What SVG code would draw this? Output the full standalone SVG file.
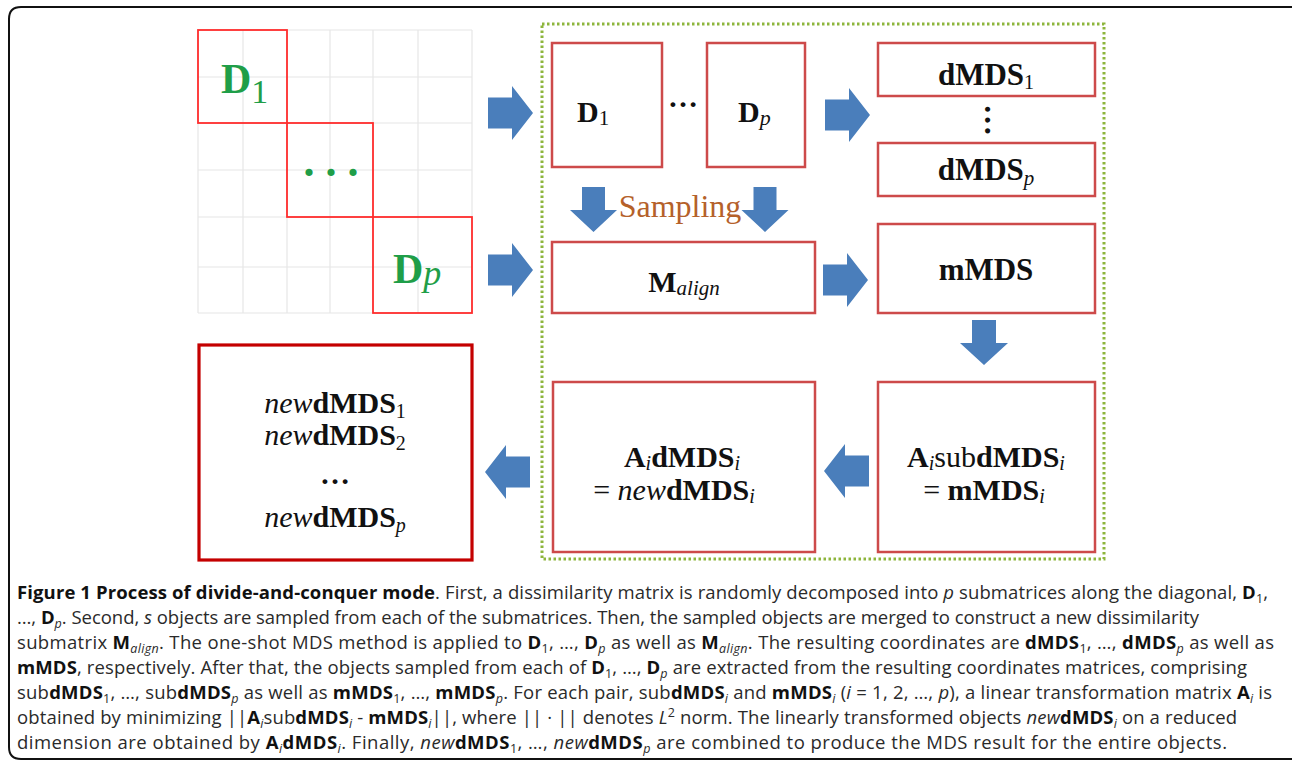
<svg xmlns="http://www.w3.org/2000/svg" width="1292" height="763" viewBox="0 0 1292 763">
<style>
.frame{fill:none;stroke:#111;stroke-width:2}
.grid{stroke:#e6e6e6;stroke-width:1.2;fill:none}
.blk{fill:none;stroke:#ff2d2d;stroke-width:1.8}
.box{fill:#fff;stroke:#cd4a4a;stroke-width:2.5}
.fbox{fill:#fff;stroke:#c40000;stroke-width:3.2}
.dot{fill:none;stroke:#8db53c;stroke-width:3;stroke-dasharray:2.5 2.5}
.arr{fill:#4a7ebb}
.t{font-family:"Liberation Serif","Times New Roman",serif;fill:#111}
.g{font-family:"Liberation Serif","Times New Roman",serif;fill:#1f9e48}
.b{font-weight:700}
.i{font-style:italic}
.smp{font-family:"Liberation Serif","Times New Roman",serif;fill:#b5612a;font-size:32px}
.cap{font-family:"Open Sans","Noto Sans",sans-serif;font-size:18.5px;fill:#2a2a2a}
.cb{font-weight:700;fill:#111}
.cs{font-size:12.5px}
</style>
<path class="frame" d="M1300,7 H21 Q9,7 9,19 V747 Q9,759 21,759 H1300"/>
<g id="grid">
<path class="grid" d="M198,30 V313 M243,30 V313 M287,30 V313 M330,30 V313 M373,30 V313 M418,30 V313 M472,30 V313 M198,30 H472 M198,77 H472 M198,123 H472 M198,170 H472 M198,217 H472 M198,267 H472 M198,313 H472"/>
<rect class="blk" x="198" y="30" width="89" height="93"/>
<rect class="blk" x="287" y="123" width="86" height="94"/>
<rect class="blk" x="373" y="217" width="99" height="96"/>
<text class="g" x="221" y="93"><tspan class="b" font-size="42">D</tspan><tspan font-size="34" dy="10">1</tspan></text>
<text class="g b" x="331" y="176" font-size="44" text-anchor="middle">. . .</text>
<text class="g" x="393" y="283"><tspan class="b" font-size="42">D</tspan><tspan class="i" font-size="36" dy="2">p</tspan></text>
</g>
<rect class="dot" x="542" y="24" width="562" height="535"/>
<g id="connectors">
<path class="arr" d="M488,97.5 H512 V86 L533,113 L512,140 V128.5 H488 Z"/>
<path class="arr" d="M488,254.5 H512 V243 L533,270 L512,297 V285.5 H488 Z"/>
<path class="arr" d="M825,99.5 H849 V88 L870,115 L849,142 V130.5 H825 Z"/>
<path class="arr" d="M823,264.5 H847 V253 L868,280 L847,307 V295.5 H823 Z"/>
<path class="arr" d="M582,187 V210 H570 L593.5,232 L617,210 H605 V187 Z"/>
<path class="arr" d="M753.5,187 V210 H741.5 L765,232 L788.5,210 H776.5 V187 Z"/>
<path class="arr" d="M972,320 V343 H960 L984,365 L1008,343 H996 V320 Z"/>
<path class="arr" d="M869,455.5 H845 V444 L824,471 L845,498 V486.5 H869 Z"/>
<path class="arr" d="M530,456.5 H506 V445 L485,472 L506,499 V487.5 H530 Z"/>
<text class="smp" x="680" y="217" text-anchor="middle">Sampling</text>
</g>
<g id="node-d1">
<rect class="box" x="552" y="43" width="110" height="124"/>
<text class="t" x="577" y="122"><tspan class="b" font-size="30">D</tspan><tspan font-size="21" dy="3">1</tspan></text>
</g>
<text class="t b" x="683" y="107" font-size="30" text-anchor="middle">…</text>
<g id="node-dp">
<rect class="box" x="707" y="43" width="98" height="124"/>
<text class="t" x="738" y="122"><tspan class="b" font-size="30">D</tspan><tspan class="i" font-size="22" dy="3">p</tspan></text>
</g>
<g id="node-dmds1">
<rect class="box" x="878" y="43" width="217" height="53"/>
<text class="t" x="986" y="85" text-anchor="middle"><tspan class="b" font-size="31">dMDS</tspan><tspan font-size="20" dy="4">1</tspan></text>
</g>
<text class="t b" x="987" y="122" font-size="32" text-anchor="middle" transform="rotate(90 987 120)">…</text>
<g id="node-dmdsp">
<rect class="box" x="878" y="143" width="217" height="53"/>
<text class="t" x="986" y="180" text-anchor="middle"><tspan class="b" font-size="31">dMDS</tspan><tspan class="i" font-size="21" dy="5">p</tspan></text>
</g>
<g id="node-malign">
<rect class="box" x="552" y="242" width="263" height="71"/>
<text class="t" x="684" y="292" text-anchor="middle"><tspan class="b" font-size="30">M</tspan><tspan class="i" font-size="21" dy="3">align</tspan></text>
</g>
<g id="node-mmds">
<rect class="box" x="878" y="224" width="217" height="89"/>
<text class="t b" x="986" y="280" font-size="31" text-anchor="middle">mMDS</text>
</g>
<g id="node-asub">
<rect class="box" x="878" y="382" width="217" height="170"/>
<text class="t" x="986" y="467" text-anchor="middle" font-size="30"><tspan class="b">A</tspan><tspan class="i" font-size="20" dy="3">i</tspan><tspan dy="-3">sub</tspan><tspan class="b">dMDS</tspan><tspan class="i" font-size="20" dy="3">i</tspan></text>
<text class="t" x="984" y="500" text-anchor="middle" font-size="30"><tspan>= </tspan><tspan class="b">mMDS</tspan><tspan class="i" font-size="20" dy="3">i</tspan></text>
</g>
<g id="node-adm">
<rect class="box" x="553" y="382" width="262" height="170"/>
<text class="t" x="682" y="467" text-anchor="middle" font-size="30"><tspan class="b">A</tspan><tspan class="i" font-size="20" dy="3">i</tspan><tspan class="b" dy="-3">dMDS</tspan><tspan class="i" font-size="20" dy="3">i</tspan></text>
<text class="t" x="674" y="500" text-anchor="middle" font-size="30"><tspan>= </tspan><tspan class="i">new</tspan><tspan class="b">dMDS</tspan><tspan class="i" font-size="20" dy="3">i</tspan></text>
</g>
<g id="node-new">
<rect class="fbox" x="199" y="345" width="273" height="215"/>
<text class="t" x="335" y="413" text-anchor="middle" font-size="30"><tspan class="i">new</tspan><tspan class="b">dMDS</tspan><tspan font-size="20" dy="5">1</tspan></text>
<text class="t" x="335" y="445" text-anchor="middle" font-size="30"><tspan class="i">new</tspan><tspan class="b">dMDS</tspan><tspan font-size="20" dy="5">2</tspan></text>
<text class="t b" x="335" y="484" text-anchor="middle" font-size="30">…</text>
<text class="t" x="335" y="527" text-anchor="middle" font-size="30"><tspan class="i">new</tspan><tspan class="b">dMDS</tspan><tspan class="i" font-size="20" dy="5">p</tspan></text>
</g>
<g id="caption">
<text class="cap" x="17" y="599" textLength="1251" lengthAdjust="spacing"><tspan class="cb">Figure 1 Process of divide-and-conquer mode</tspan>. First, a dissimilarity matrix is randomly decomposed into <tspan font-style="italic">p</tspan> submatrices along the diagonal, <tspan class="cb">D</tspan><tspan class="cs" dy="4">1</tspan><tspan dy="-4">,</tspan></text>
<text class="cap" x="17" y="624" textLength="1182" lengthAdjust="spacing">…, <tspan class="cb">D</tspan><tspan class="cs" font-style="italic" dy="4">p</tspan><tspan dy="-4">. Second, </tspan><tspan font-style="italic">s</tspan> objects are sampled from each of the submatrices. Then, the sampled objects are merged to construct a new dissimilarity</text>
<text class="cap" x="17" y="649" textLength="1257" lengthAdjust="spacing">submatrix <tspan class="cb">M</tspan><tspan class="cs" font-style="italic" dy="4">align</tspan><tspan dy="-4">. The one-shot MDS method is applied to </tspan><tspan class="cb">D</tspan><tspan class="cs" dy="4">1</tspan><tspan dy="-4">, …, </tspan><tspan class="cb">D</tspan><tspan class="cs" font-style="italic" dy="4">p</tspan><tspan dy="-4"> as well as </tspan><tspan class="cb">M</tspan><tspan class="cs" font-style="italic" dy="4">align</tspan><tspan dy="-4">. The resulting coordinates are </tspan><tspan class="cb">dMDS</tspan><tspan class="cs" dy="4">1</tspan><tspan dy="-4">, …, </tspan><tspan class="cb">dMDS</tspan><tspan class="cs" font-style="italic" dy="4">p</tspan><tspan dy="-4"> as well as</tspan></text>
<text class="cap" x="17" y="674" textLength="1230" lengthAdjust="spacing"><tspan class="cb">mMDS</tspan>, respectively. After that, the objects sampled from each of <tspan class="cb">D</tspan><tspan class="cs" dy="4">1</tspan><tspan dy="-4">, …, </tspan><tspan class="cb">D</tspan><tspan class="cs" font-style="italic" dy="4">p</tspan><tspan dy="-4"> are extracted from the resulting coordinates matrices, comprising</tspan></text>
<text class="cap" x="17" y="699" textLength="1255" lengthAdjust="spacing">sub<tspan class="cb">dMDS</tspan><tspan class="cs" dy="4">1</tspan><tspan dy="-4">, …, sub</tspan><tspan class="cb">dMDS</tspan><tspan class="cs" font-style="italic" dy="4">p</tspan><tspan dy="-4"> as well as </tspan><tspan class="cb">mMDS</tspan><tspan class="cs" dy="4">1</tspan><tspan dy="-4">, …, </tspan><tspan class="cb">mMDS</tspan><tspan class="cs" font-style="italic" dy="4">p</tspan><tspan dy="-4">. For each pair, sub</tspan><tspan class="cb">dMDS</tspan><tspan class="cs" font-style="italic" dy="4">i</tspan><tspan dy="-4"> and </tspan><tspan class="cb">mMDS</tspan><tspan class="cs" font-style="italic" dy="4">i</tspan><tspan dy="-4"> (</tspan><tspan font-style="italic">i</tspan> = 1, 2, …, <tspan font-style="italic">p</tspan>), a linear transformation matrix <tspan class="cb">A</tspan><tspan class="cs" font-style="italic" dy="4">i</tspan><tspan dy="-4"> is</tspan></text>
<text class="cap" x="17" y="724" textLength="1220" lengthAdjust="spacing">obtained by minimizing ||<tspan class="cb">A</tspan><tspan class="cs" font-style="italic" dy="4">i</tspan><tspan dy="-4">sub</tspan><tspan class="cb">dMDS</tspan><tspan class="cs" font-style="italic" dy="4">i</tspan><tspan dy="-4"> - </tspan><tspan class="cb">mMDS</tspan><tspan class="cs" font-style="italic" dy="4">i</tspan><tspan dy="-4">||, where || · || denotes </tspan><tspan font-style="italic">L</tspan><tspan class="cs" dy="-7">2</tspan><tspan dy="7"> norm. The linearly transformed objects </tspan><tspan font-style="italic">new</tspan><tspan class="cb">dMDS</tspan><tspan class="cs" font-style="italic" dy="4">i</tspan><tspan dy="-4"> on a reduced</tspan></text>
<text class="cap" x="17" y="749" textLength="1210" lengthAdjust="spacing">dimension are obtained by <tspan class="cb">A</tspan><tspan class="cs" font-style="italic" dy="4">i</tspan><tspan class="cb" dy="-4">dMDS</tspan><tspan class="cs" font-style="italic" dy="4">i</tspan><tspan dy="-4">. Finally, </tspan><tspan font-style="italic">new</tspan><tspan class="cb">dMDS</tspan><tspan class="cs" dy="4">1</tspan><tspan dy="-4">, …, </tspan><tspan font-style="italic">new</tspan><tspan class="cb">dMDS</tspan><tspan class="cs" font-style="italic" dy="4">p</tspan><tspan dy="-4"> are combined to produce the MDS result for the entire objects.</tspan></text>
</g>
</svg>
